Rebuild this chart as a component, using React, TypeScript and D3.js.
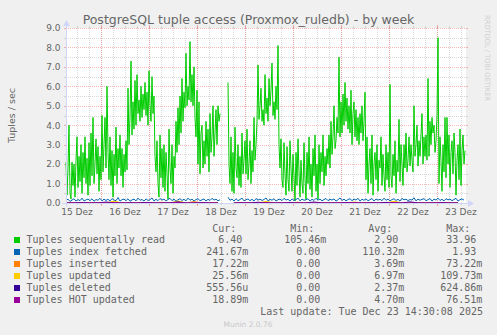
import React from 'react';
import * as d3 from 'd3';

const W = 497;
const H = 335;
const END = Date.UTC(2025, 11, 23, 14, 30);
const SPAN_H = 200;
const START = END - SPAN_H * 3600e3;
const HOUR = 3600e3;

// Tuples sequentally read, 30 min steps
const seqRead: (number | null)[] = [
  2.1, 0.4, 1.8, 4.0, 0.5, 0.2, 2.1, 0.9, 2.0, 0.3, 2.2, 3.4, 0.8, 2.4, 1.1, 3.0, 0.5, 2.6, 1.3, 3.4,
  1.0, 2.3, 0.4, 3.1, 0.9, 3.6, 1.4, 4.4, 1.0, 2.0, 3.3, 1.5, 2.9, 0.6, 2.4, 1.2, 4.5, 1.6, 3.0, 4.4,
  1.8, 6.0, 2.6, 1.2, 3.4, 0.9, 2.7, 0.3, 2.5, 1.4, 3.9, 1.0, 2.8, 1.8, 3.5, 1.4, 2.8, 0.8, 2.5, 1.6,
  3.2, 1.7, 5.9, 3.0, 4.4, 7.3, 3.5, 5.2, 3.8, 6.3, 4.0, 6.6, 4.6, 5.3, 4.2, 6.0, 4.4, 5.6, 4.8, 6.2,
  4.5, 5.7, 4.0, 6.8, 5.0, 4.2, 6.5, 4.6, 5.5, 2.4, 1.6, 3.2, 1.0, 0.3, 3.5, 1.3, 2.8, 0.8, 3.0, 0.6,
  2.6, 1.5, 0.2, 3.8, 1.8, 1.0, 3.0, 0.5, 2.4, 1.8, 4.2, 2.6, 4.9, 3.0, 5.5, 3.6, 6.4, 4.2, 5.7, 4.9,
  7.7, 5.0, 6.0, 5.3, 8.3, 5.2, 6.6, 5.0, 7.0, 4.4, 3.4, 5.8, 2.0, 5.2, 1.5, 3.6, 4.0, 1.8, 3.2, 2.0,
  4.2, 2.4, 3.8, 1.6, 4.6, 2.6, 3.4, 5.0, 2.4, 3.6, 4.8, 3.0, 5.0, 4.2, 4.6, null, null, null, null, null,
  null, null, 6.2, 2.0, 1.0, 3.4, 0.6, 2.6, 0.5, 3.9, 1.8, 1.3, 3.0, 0.9, 2.4, 0.8, 3.6, 1.5, 2.2, 3.2,
  1.5, 3.8, 1.2, 2.0, 3.2, 1.0, 2.7, 1.6, 4.4, 2.2, 3.0, 4.2, 7.1, 4.3, 5.0, 5.9, 4.2, 4.8, 4.0, 6.6,
  4.6, 5.4, 4.2, 6.4, 5.0, 5.8, 7.2, 4.5, 5.2, 4.3, 6.0, 4.8, 8.1, 3.0, 1.8, 3.3, 1.2, 0.8, 3.1, 1.5,
  0.4, 2.9, 1.2, 0.6, 3.2, 1.8, 0.6, 2.5, 1.4, 0.1, 2.6, 0.9, 3.3, 1.6, 0.3, 2.2, 1.0, 0.5, 3.1, 1.2,
  0.2, 2.6, 1.0, 3.4, 0.7, 2.0, 0.3, 2.8, 1.4, 3.5, 0.6, 2.0, 0.2, 3.0, 1.0, 2.6, 1.6, 3.5, 0.9, 2.4,
  1.4, 2.8, 2.0, 3.5, 1.8, 4.2, 2.5, 3.4, 5.0, 2.8, 3.2, 4.4, 3.6, 7.5, 3.4, 5.2, 3.6, 5.6, 4.0, 6.2,
  4.2, 5.4, 3.8, 5.0, 3.6, 5.8, 3.0, 4.6, 5.2, 3.4, 4.8, 3.2, 4.4, 3.0, 4.6, 3.6, 5.0, 3.2, 4.2, 5.7,
  1.2, 3.4, 0.5, 2.0, 2.8, 1.0, 3.5, 0.4, 2.0, 2.6, 1.2, 3.0, 0.6, 2.2, 1.8, 3.4, 0.9, 2.5, 1.4, 0.6,
  3.0, 1.2, 2.6, 0.8, 6.1, 1.4, 0.8, 2.5, 1.4, 3.2, 0.5, 2.2, 1.6, 4.3, 1.1, 3.0, 2.0, 0.9, 3.0, 1.8,
  3.6, 1.6, 2.2, 3.4, 1.9, 3.0, 2.2, 1.6, 5.0, 2.4, 3.0, 4.0, 1.9, 3.2, 2.4, 3.5, 4.6, 2.0, 3.4, 2.4,
  3.5, 2.2, 6.4, 2.4, 4.2, 3.0, 4.4, 3.6, 4.0, 2.6, 3.2, 4.5, 8.5, 1.0, 3.4, 2.2, 0.6, 3.0, 1.6, 4.4,
  1.3, 4.4, 2.0, 3.5, 0.8, 2.6, 3.2, 1.5, 3.6, 2.6, 0.4, 2.2, 3.0, 1.2, 3.8, 0.9, 2.7, 3.5, 2.0, 2.7,
];

// Tuples index fetched, 1 h steps
const idxFetched: (number | null)[] = [
  0.12, 0.2, 0.08, 0.15, 0.22, 0.1, 0.18, 0.12, 0.25, 0.1,
  0.16, 0.2, 0.12, 0.22, 0.09, 0.18, 0.14, 0.24, 0.11, 0.2,
  0.13, 0.19, 0.1, 0.23, 0.15, 0.12, 0.28, 0.1, 0.17, 0.2,
  0.12, 0.22, 0.09, 0.16, 0.2, 0.11, 0.25, 0.14, 0.18, 0.1,
  0.21, 0.13, 0.17, 0.26, 0.1, 0.19, 0.12, 0.23, 0.15, 0.2,
  0.1, 0.18, 0.24, 0.12, 0.2, 0.09, 0.17, 0.22, 0.13, 0.19,
  0.11, 0.25, 0.14, 0.2, 0.1, 0.18, 0.22, 0.12, 0.16, 0.21,
  0.1, 0.19, 0.13, 0.24, 0.15, 0.2, 0.11, 0.17, null, null,
  null, 0.3, 0.14, 0.2, 0.1, 0.22, 0.12, 0.18, 0.25, 0.11,
  0.17, 0.21, 0.12, 0.19, 0.1, 0.23, 0.15, 0.2, 0.13, 0.18,
  0.26, 0.11, 0.19, 0.14, 0.22, 0.1, 0.17, 0.2, 0.12, 0.24,
  0.15, 0.19, 0.1, 0.21, 0.13, 0.18, 0.25, 0.11, 0.2, 0.14,
  0.17, 0.22, 0.1, 0.19, 0.13, 0.24, 0.15, 0.2, 0.11, 0.18,
  0.23, 0.12, 0.19, 0.15, 0.21, 0.1, 0.17, 0.26, 0.13, 0.2,
  0.11, 0.18, 0.22, 0.12, 0.2, 0.15, 0.24, 0.1, 0.19, 0.14,
  0.21, 0.12, 0.17, 0.23, 0.1, 0.2, 0.15, 0.19, 0.12, 0.25,
  0.14, 0.2, 0.11, 0.18, 0.22, 0.13, 0.19, 0.1, 0.24, 0.16,
  0.2, 0.12, 0.18, 0.15, 0.27, 0.11, 0.2, 0.14, 0.19, 0.22,
  0.12, 0.17, 0.23, 0.1, 0.2, 0.15, 0.25, 0.13, 0.19, 0.11,
  0.22, 0.16, 0.2, 0.12, 0.18, 0.24, 0.1, 0.17, 0.21, 0.15,
];

// small series, 4 h steps
const inserted: (number | null)[] = [
  0.004, 0.01, 0.003, 0.02, 0.004, 0.006, 0.05, 0.003, 0.004, 0.01,
  0.003, 0.004, 0.02, 0.003, 0.006, 0.004, 0.07, 0.003, 0.004, 0.005,
  null, 0.004, 0.01, 0.003, 0.004, 0.02, 0.003, 0.004, 0.006, 0.03,
  0.003, 0.004, 0.01, 0.003, 0.005, 0.004, 0.02, 0.003, 0.004, 0.006,
  0.004, 0.05, 0.003, 0.004, 0.01, 0.003, 0.004, 0.02, 0.003, 0.004,
];
const updated: (number | null)[] = [
  0.006, 0.01, 0.005, 0.03, 0.006, 0.008, 0.09, 0.005, 0.006, 0.02,
  0.005, 0.006, 0.04, 0.005, 0.1, 0.006, 0.02, 0.005, 0.006, 0.01,
  null, 0.006, 0.03, 0.005, 0.006, 0.08, 0.005, 0.006, 0.01, 0.04,
  0.005, 0.006, 0.02, 0.005, 0.007, 0.006, 0.05, 0.005, 0.006, 0.01,
  0.006, 0.09, 0.005, 0.006, 0.02, 0.005, 0.006, 0.03, 0.005, 0.006,
];
const deleted: (number | null)[] = [
  0.002, 0.004, 0.02, 0.002, 0.003, 0.05, 0.002, 0.002, 0.01, 0.002,
  0.03, 0.002, 0.002, 0.004, 0.06, 0.002, 0.002, 0.02, 0.002, 0.003,
  null, 0.002, 0.01, 0.002, 0.04, 0.002, 0.002, 0.003, 0.02, 0.002,
  0.002, 0.05, 0.002, 0.003, 0.002, 0.02, 0.002, 0.002, 0.01, 0.002,
  0.03, 0.002, 0.002, 0.06, 0.002, 0.003, 0.002, 0.02, 0.002, 0.002,
];
const hotUpdated: (number | null)[] = [
  0.005, 0.006, 0.004, 0.01, 0.005, 0.004, 0.02, 0.005, 0.004, 0.006,
  0.005, 0.004, 0.01, 0.005, 0.03, 0.004, 0.006, 0.005, 0.004, 0.005,
  null, 0.005, 0.01, 0.004, 0.005, 0.02, 0.004, 0.005, 0.006, 0.01,
  0.004, 0.005, 0.006, 0.004, 0.005, 0.005, 0.02, 0.004, 0.005, 0.006,
  0.005, 0.03, 0.004, 0.005, 0.006, 0.004, 0.005, 0.01, 0.004, 0.005,
];

const yTicks = [0, 1, 2, 3, 4, 5, 6, 7, 8, 9];
const dayLabels = ['15 Dez', '16 Dez', '17 Dez', '18 Dez', '19 Dez', '20 Dez', '21 Dez', '22 Dez', '23 Dez'];

const legendNames = [
  'Tuples sequentally read',
  'Tuples index fetched',
  'Tuples inserted',
  'Tuples updated',
  'Tuples deleted',
  'Tuples HOT updated',
];
const legendColors = ['#00CC00', '#0066B3', '#FF8000', '#FFCC00', '#330099', '#990099'];
const curVals = ['6.40', '241.67m', '17.22m', '25.56m', '555.56u', '18.89m'];
const minVals = ['105.46m', '0.00', '0.00', '0.00', '0.00', '0.00'];
const avgVals = ['2.90', '110.32m', '3.69m', '6.97m', '2.37m', '4.70m'];
const maxVals = ['33.96', '1.93', '73.22m', '109.73m', '624.86m', '76.51m'];
const colHeaders = ['Cur:', 'Min:', 'Avg:', 'Max:'];

const FONT = '#666666';
const AXIS = '#CFD6F8';
const GRID = 'rgba(186,186,186,0.55)';
const MGRID = 'rgba(242,82,82,0.42)';

export default function App() {
  const X0 = 66, X1 = 466, Y0 = 203, Y1 = 28;
  const x = d3.scaleUtc().domain([START, END]).range([X0, X1]);
  const y = d3.scaleLinear().domain([0, 9]).range([Y0, Y1]);

  const mkLine = (step: number) =>
    d3.line<number | null>()
      .defined((d) => d != null)
      .x((_, i) => x(START + i * step))
      .y((d) => y(d as number));

  const series = [
    { data: seqRead, step: HOUR / 2, color: legendColors[0] },
    { data: idxFetched, step: HOUR, color: legendColors[1] },
    { data: inserted, step: 4 * HOUR, color: legendColors[2] },
    { data: updated, step: 4 * HOUR, color: legendColors[3] },
    { data: deleted, step: 4 * HOUR, color: legendColors[4] },
    { data: hotUpdated, step: 4 * HOUR, color: legendColors[5] },
  ];

  const minorV = d3.utcHour.every(6)!.range(new Date(START), new Date(END));
  const majorV = d3.utcDay.range(new Date(START), new Date(END));
  const minorH = d3.range(0.5, 9, 1);
  const noonDays = majorV.map((d) => new Date(d.getTime() - 12 * HOUR));
  const labelDays = [...noonDays, new Date(majorV[majorV.length - 1].getTime() + 12 * HOUR)];

  const colNumEnd = [242.3, 320.3, 398.3, 476.3];
  const cols = [curVals, minVals, avgVals, maxVals];
  const mono = '"DejaVu Sans Mono", monospace';
  const sans = '"DejaVu Sans", sans-serif';
  const px = (v: number) => Math.round(v) + 0.5;

  return (
    <svg width={W} height={H} style={{ position: 'absolute', left: 0, top: 0 }}>
      <rect x={0} y={0} width={W} height={H} fill="#F0F0F0" />
      <rect x={X0} y={Y1} width={X1 - X0} height={Y0 - Y1} fill="#FFFFFF" />

      {/* minor grid */}
      {minorH.map((v) => (
        <g key={'mh' + v}>
          <line x1={X0} x2={X1} y1={px(y(v))} y2={px(y(v))} stroke={GRID} strokeDasharray="1,1" />
          <line x1={X0 - 2} x2={X0} y1={px(y(v))} y2={px(y(v))} stroke={GRID} />
          <line x1={X1} x2={X1 + 2} y1={px(y(v))} y2={px(y(v))} stroke={GRID} />
        </g>
      ))}
      {minorV.map((d) => (
        <g key={'mv' + d.getTime()}>
          <line x1={px(x(d))} x2={px(x(d))} y1={Y1} y2={Y0} stroke={GRID} strokeDasharray="1,1" />
          <line x1={px(x(d))} x2={px(x(d))} y1={Y0} y2={Y0 + 2} stroke={GRID} />
          <line x1={px(x(d))} x2={px(x(d))} y1={Y1 - 2} y2={Y1} stroke={GRID} />
        </g>
      ))}
      {/* major grid */}
      {yTicks.map((v) => (
        <g key={'Mh' + v}>
          <line x1={X0} x2={X1} y1={px(y(v))} y2={px(y(v))} stroke={MGRID} strokeDasharray="1,1" />
          <line x1={X0 - 2} x2={X0} y1={px(y(v))} y2={px(y(v))} stroke={MGRID} />
          <line x1={X1} x2={X1 + 2} y1={px(y(v))} y2={px(y(v))} stroke={MGRID} />
        </g>
      ))}
      {majorV.map((d) => (
        <g key={'Mv' + d.getTime()}>
          <line x1={px(x(d))} x2={px(x(d))} y1={Y1} y2={Y0} stroke={MGRID} strokeDasharray="1,1" />
          <line x1={px(x(d))} x2={px(x(d))} y1={Y0} y2={Y0 + 3} stroke={MGRID} />
          <line x1={px(x(d))} x2={px(x(d))} y1={Y1 - 3} y2={Y1} stroke={MGRID} />
        </g>
      ))}

      {/* data lines */}
      {series.map((s, i) => (
        <path key={'s' + i} d={mkLine(s.step)(s.data) || ''} fill="none" stroke={s.color}
          strokeWidth={1} strokeLinejoin="miter" />
      ))}

      {/* axes */}
      <line x1={X0 - 4} x2={X1 + 4} y1={Y0 + 0.5} y2={Y0 + 0.5} stroke={AXIS} />
      <line x1={X0 + 0.5} x2={X0 + 0.5} y1={Y0 + 4} y2={Y1 - 4} stroke={AXIS} />
      <path d={`M${X1 + 2},${Y0 - 3}L${X1 + 2},${Y0 + 4}L${X1 + 8},${Y0 + 0.5}Z`} fill={AXIS} />
      <path d={`M${X0 - 3},${Y1 - 2}L${X0 + 4},${Y1 - 2}L${X0 + 0.5},${Y1 - 8}Z`} fill={AXIS} />

      {/* y tick labels */}
      {yTicks.map((v) => (
        <text key={'yl' + v} x={60.5} y={y(v) + 3.3} fontSize={9} fontFamily={sans} fill={FONT} textAnchor="end">
          {v.toFixed(1)}
        </text>
      ))}
      {/* x labels */}
      {labelDays.map((d, i) => (
        <text key={'xl' + i} x={x(d)} y={215} fontSize={9} fontFamily={sans} fill={FONT} textAnchor="middle">
          {dayLabels[i]}
        </text>
      ))}

      {/* titles */}
      <text x={W / 2} y={23.5} fontSize={12.5} fontFamily={sans} fill={FONT} textAnchor="middle">
        PostgreSQL tuple access (Proxmox_ruledb) - by week
      </text>
      <text transform={`translate(14.5,${(Y0 + Y1) / 2}) rotate(-90)`} fontSize={9.5} fontFamily={sans}
        fill={FONT} textAnchor="middle">
        Tuples / sec
      </text>
      <text transform="translate(485,15) rotate(90)" fontSize={7} fontFamily={sans} fill="#CFCFCF"
        textLength={86} lengthAdjust="spacingAndGlyphs">
        RRDTOOL / TOBI OETIKER
      </text>

      {/* legend */}
      {colHeaders.map((h, c) => (
        <text key={'h' + c} x={colNumEnd[c] - 6} y={232} fontSize={10} fontFamily={mono} fill={FONT} textAnchor="end">
          {h}
        </text>
      ))}
      {legendNames.map((n, r) => {
        const by = 243 + r * 12;
        return (
          <g key={'lg' + r}>
            <rect x={14} y={by - 6} width={6} height={6} fill={legendColors[r]} />
            <text x={26.5} y={by} fontSize={10} fontFamily={mono} fill={FONT}>{n}</text>
            {cols.map((vals, c) => {
              const m = vals[r].match(/^([0-9.]+)(.?)$/)!;
              return (
                <g key={'v' + c}>
                  <text x={colNumEnd[c]} y={by} fontSize={10} fontFamily={mono} fill={FONT} textAnchor="end">{m[1]}</text>
                  {m[2] && (
                    <text x={colNumEnd[c]} y={by} fontSize={10} fontFamily={mono} fill={FONT}>{m[2]}</text>
                  )}
                </g>
              );
            })}
          </g>
        );
      })}
      <text x={483} y={315} fontSize={10} fontFamily={mono} fill={FONT} textAnchor="end">
        Last update: Tue Dec 23 14:30:08 2025
      </text>
      <text x={248} y={327} fontSize={7.5} fontFamily={sans} fill="#C8C8C8" textAnchor="middle">
        Munin 2.0.76
      </text>
    </svg>
  );
}
